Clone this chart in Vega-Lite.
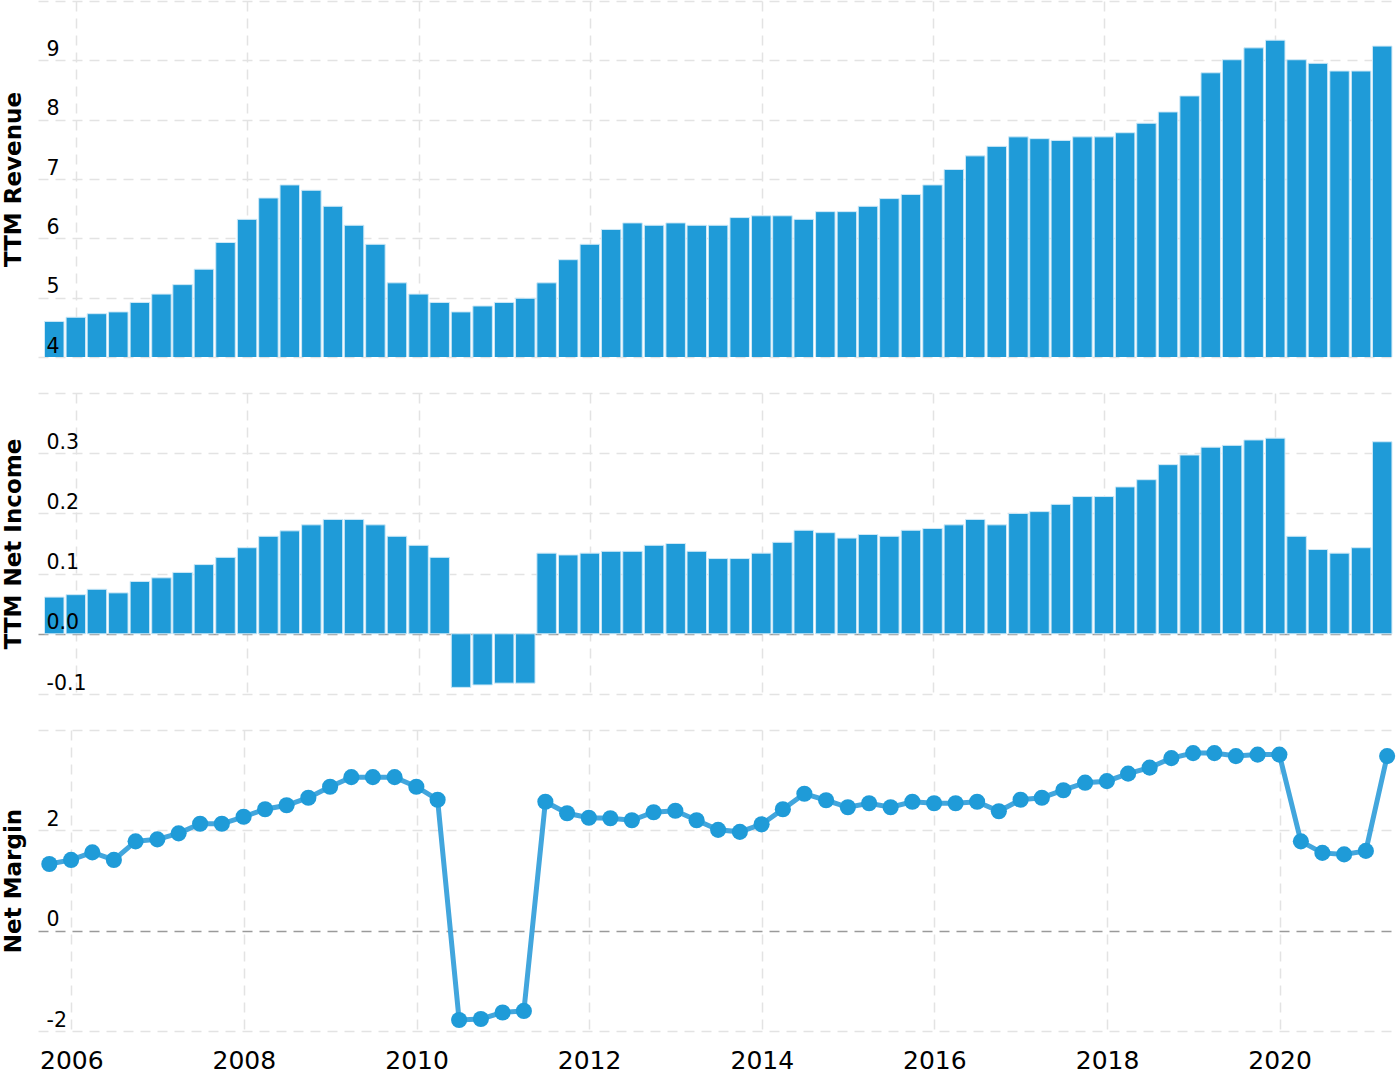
{
  "$schema": "https://vega.github.io/schema/vega-lite/v6.json",
  "background": "#ffffff",
  "padding": {"left": 2, "top": 1, "right": 0, "bottom": 0},
  "spacing": 36,
  "config": {
    "view": {"stroke": null},
    "font": "DejaVu Sans",
    "axis": {
      "ticks": false,
      "tickSize": 0,
      "domain": false,
      "labelColor": "#000000",
      "titleColor": "#000000",
      "labelFont": "DejaVu Sans",
      "titleFont": "DejaVu Sans"
    }
  },
  "data": {
    "values": [
      {"date": "2005-09-30", "revenue": 4.60, "netIncome": 0.061, "netMargin": 1.33},
      {"date": "2005-12-31", "revenue": 4.67, "netIncome": 0.065, "netMargin": 1.41},
      {"date": "2006-03-31", "revenue": 4.73, "netIncome": 0.074, "netMargin": 1.56},
      {"date": "2006-06-30", "revenue": 4.76, "netIncome": 0.068, "netMargin": 1.41},
      {"date": "2006-09-30", "revenue": 4.92, "netIncome": 0.087, "netMargin": 1.78},
      {"date": "2006-12-31", "revenue": 5.06, "netIncome": 0.093, "netMargin": 1.82},
      {"date": "2007-03-31", "revenue": 5.22, "netIncome": 0.102, "netMargin": 1.94},
      {"date": "2007-06-30", "revenue": 5.48, "netIncome": 0.115, "netMargin": 2.13},
      {"date": "2007-09-30", "revenue": 5.93, "netIncome": 0.127, "netMargin": 2.13},
      {"date": "2007-12-31", "revenue": 6.32, "netIncome": 0.143, "netMargin": 2.27},
      {"date": "2008-03-31", "revenue": 6.68, "netIncome": 0.162, "netMargin": 2.42},
      {"date": "2008-06-30", "revenue": 6.90, "netIncome": 0.171, "netMargin": 2.50},
      {"date": "2008-09-30", "revenue": 6.81, "netIncome": 0.181, "netMargin": 2.65},
      {"date": "2008-12-31", "revenue": 6.54, "netIncome": 0.190, "netMargin": 2.87},
      {"date": "2009-03-31", "revenue": 6.22, "netIncome": 0.190, "netMargin": 3.06},
      {"date": "2009-06-30", "revenue": 5.90, "netIncome": 0.181, "netMargin": 3.06},
      {"date": "2009-09-30", "revenue": 5.25, "netIncome": 0.162, "netMargin": 3.06},
      {"date": "2009-12-31", "revenue": 5.06, "netIncome": 0.147, "netMargin": 2.87},
      {"date": "2010-03-31", "revenue": 4.92, "netIncome": 0.127, "netMargin": 2.61},
      {"date": "2010-06-30", "revenue": 4.76, "netIncome": -0.089, "netMargin": -1.78},
      {"date": "2010-09-30", "revenue": 4.86, "netIncome": -0.085, "netMargin": -1.76},
      {"date": "2010-12-31", "revenue": 4.92, "netIncome": -0.082, "netMargin": -1.63},
      {"date": "2011-03-31", "revenue": 4.99, "netIncome": -0.082, "netMargin": -1.60},
      {"date": "2011-06-30", "revenue": 5.25, "netIncome": 0.134, "netMargin": 2.57},
      {"date": "2011-09-30", "revenue": 5.64, "netIncome": 0.131, "netMargin": 2.34},
      {"date": "2011-12-31", "revenue": 5.90, "netIncome": 0.134, "netMargin": 2.25},
      {"date": "2012-03-31", "revenue": 6.15, "netIncome": 0.137, "netMargin": 2.24},
      {"date": "2012-06-30", "revenue": 6.26, "netIncome": 0.137, "netMargin": 2.20},
      {"date": "2012-09-30", "revenue": 6.22, "netIncome": 0.147, "netMargin": 2.36},
      {"date": "2012-12-31", "revenue": 6.26, "netIncome": 0.150, "netMargin": 2.39},
      {"date": "2013-03-31", "revenue": 6.22, "netIncome": 0.137, "netMargin": 2.20},
      {"date": "2013-06-30", "revenue": 6.22, "netIncome": 0.125, "netMargin": 2.01},
      {"date": "2013-09-30", "revenue": 6.35, "netIncome": 0.125, "netMargin": 1.97},
      {"date": "2013-12-31", "revenue": 6.38, "netIncome": 0.134, "netMargin": 2.12},
      {"date": "2014-03-31", "revenue": 6.38, "netIncome": 0.152, "netMargin": 2.42},
      {"date": "2014-06-30", "revenue": 6.32, "netIncome": 0.172, "netMargin": 2.73},
      {"date": "2014-09-30", "revenue": 6.45, "netIncome": 0.168, "netMargin": 2.60},
      {"date": "2014-12-31", "revenue": 6.45, "netIncome": 0.159, "netMargin": 2.46},
      {"date": "2015-03-31", "revenue": 6.54, "netIncome": 0.165, "netMargin": 2.54},
      {"date": "2015-06-30", "revenue": 6.67, "netIncome": 0.162, "netMargin": 2.46},
      {"date": "2015-09-30", "revenue": 6.74, "netIncome": 0.172, "netMargin": 2.57},
      {"date": "2015-12-31", "revenue": 6.90, "netIncome": 0.175, "netMargin": 2.54},
      {"date": "2016-03-31", "revenue": 7.16, "netIncome": 0.181, "netMargin": 2.54},
      {"date": "2016-06-30", "revenue": 7.39, "netIncome": 0.190, "netMargin": 2.57},
      {"date": "2016-09-30", "revenue": 7.55, "netIncome": 0.181, "netMargin": 2.38},
      {"date": "2016-12-31", "revenue": 7.71, "netIncome": 0.200, "netMargin": 2.61},
      {"date": "2017-03-31", "revenue": 7.68, "netIncome": 0.203, "netMargin": 2.65},
      {"date": "2017-06-30", "revenue": 7.65, "netIncome": 0.215, "netMargin": 2.80},
      {"date": "2017-09-30", "revenue": 7.71, "netIncome": 0.228, "netMargin": 2.95},
      {"date": "2017-12-31", "revenue": 7.71, "netIncome": 0.228, "netMargin": 2.98},
      {"date": "2018-03-31", "revenue": 7.78, "netIncome": 0.244, "netMargin": 3.13},
      {"date": "2018-06-30", "revenue": 7.94, "netIncome": 0.256, "netMargin": 3.25},
      {"date": "2018-09-30", "revenue": 8.13, "netIncome": 0.281, "netMargin": 3.44},
      {"date": "2018-12-31", "revenue": 8.40, "netIncome": 0.297, "netMargin": 3.54},
      {"date": "2019-03-31", "revenue": 8.79, "netIncome": 0.310, "netMargin": 3.54},
      {"date": "2019-06-30", "revenue": 9.01, "netIncome": 0.313, "netMargin": 3.48},
      {"date": "2019-09-30", "revenue": 9.21, "netIncome": 0.322, "netMargin": 3.51},
      {"date": "2019-12-31", "revenue": 9.34, "netIncome": 0.325, "netMargin": 3.51},
      {"date": "2020-03-31", "revenue": 9.01, "netIncome": 0.162, "netMargin": 1.78},
      {"date": "2020-06-30", "revenue": 8.95, "netIncome": 0.140, "netMargin": 1.55},
      {"date": "2020-09-30", "revenue": 8.82, "netIncome": 0.134, "netMargin": 1.52},
      {"date": "2020-12-31", "revenue": 8.82, "netIncome": 0.143, "netMargin": 1.59},
      {"date": "2021-03-31", "revenue": 9.24, "netIncome": 0.319, "netMargin": 3.48}
    ]
  },
  "vconcat": [
    {
      "width": 1360,
      "height": 356,
      "encoding": {
        "x": {
          "field": "date", "type": "temporal",
          "scale": {"type": "utc", "domain": [{"year": 2005, "month": 8, "date": 13, "utc": true}, {"year": 2021, "month": 5, "date": 16, "utc": true}]},
          "axis": {
            "title": null, "labels": false,
            "values": [{"year": 2006, "utc": true}, {"year": 2008, "utc": true}, {"year": 2010, "utc": true}, {"year": 2012, "utc": true}, {"year": 2014, "utc": true}, {"year": 2016, "utc": true}, {"year": 2018, "utc": true}, {"year": 2020, "utc": true}],
            "grid": true, "gridColor": "#e3e3e3", "gridDash": [10, 7], "gridWidth": 1.5
          }
        }
      },
      "layer": [
        {
          "mark": {"type": "bar", "width": 19.5, "color": "#1f9bd8", "stroke": "#cfe9f7", "strokeWidth": 1, "clip": true},
          "encoding": {
            "y": {
              "field": "revenue", "type": "quantitative",
              "scale": {"domain": [4, 10], "zero": false, "nice": false},
              "axis": {
                "orient": "left", "title": null, "labels": false, "zindex": 0,
                "values": [4, 5, 6, 7, 8, 9, 10],
                "grid": true, "gridColor": "#e3e3e3", "gridDash": [10, 7], "gridWidth": 1.5
              }
            }
          }
        },
        {
          "mark": {"type": "bar", "width": 19.5, "opacity": 0, "clip": true},
          "encoding": {
            "y": {
              "field": "revenue", "type": "quantitative",
              "axis": {
                "orient": "left", "grid": false, "zindex": 1,
                "title": "TTM Revenue", "titleFontSize": 23, "titleFontWeight": "bold", "titleX": -18, "titleBaseline": "alphabetic",
                "values": [4, 5, 6, 7, 8, 9, 10],
                "labelExpr": "datum.value == 10 ? '' : datum.label",
                "labelAlign": "left", "labelPadding": -8, "labelBaseline": "alphabetic", "labelOffset": -5, "labelFontSize": 20.5
              }
            }
          }
        }
      ],
      "resolve": {"axis": {"y": "independent"}}
    },
    {
      "width": 1360,
      "height": 301,
      "encoding": {
        "x": {
          "field": "date", "type": "temporal",
          "scale": {"type": "utc", "domain": [{"year": 2005, "month": 8, "date": 13, "utc": true}, {"year": 2021, "month": 5, "date": 16, "utc": true}]},
          "axis": {
            "title": null, "labels": false,
            "values": [{"year": 2006, "utc": true}, {"year": 2008, "utc": true}, {"year": 2010, "utc": true}, {"year": 2012, "utc": true}, {"year": 2014, "utc": true}, {"year": 2016, "utc": true}, {"year": 2018, "utc": true}, {"year": 2020, "utc": true}],
            "grid": true, "gridColor": "#e3e3e3", "gridDash": [10, 7], "gridWidth": 1.5
          }
        }
      },
      "layer": [
        {
          "mark": {"type": "bar", "width": 19.5, "color": "#1f9bd8", "stroke": "#cfe9f7", "strokeWidth": 1, "clip": true},
          "encoding": {
            "y": {
              "field": "netIncome", "type": "quantitative",
              "scale": {"domain": [-0.1, 0.4], "nice": false},
              "axis": {
                "orient": "left", "title": null, "labels": false, "zindex": 0,
                "values": [-0.1, 0, 0.1, 0.2, 0.3, 0.4],
                "grid": true, "gridColor": {"condition": {"test": "datum.value == 0", "value": "#9a9a9a"}, "value": "#e3e3e3"}, "gridDash": [10, 7], "gridWidth": 1.5
              }
            }
          }
        },
        {
          "mark": {"type": "bar", "width": 19.5, "opacity": 0, "clip": true},
          "encoding": {
            "y": {
              "field": "netIncome", "type": "quantitative",
              "axis": {
                "orient": "left", "grid": false, "zindex": 1,
                "title": "TTM Net Income", "titleFontSize": 23, "titleFontWeight": "bold", "titleX": -18, "titleBaseline": "alphabetic",
                "values": [-0.1, 0, 0.1, 0.2, 0.3, 0.4], "format": ".1f",
                "labelExpr": "datum.value > 0.35 ? '' : replace(datum.label, '−', '-')",
                "labelAlign": "left", "labelPadding": -8, "labelBaseline": "alphabetic", "labelOffset": -5, "labelFontSize": 20.5
              }
            }
          }
        }
      ],
      "resolve": {"axis": {"y": "independent"}}
    },
    {
      "width": 1360,
      "height": 301,
      "encoding": {
        "x": {
          "field": "date", "type": "temporal",
          "scale": {"type": "utc", "domain": [{"year": 2005, "month": 8, "date": 13, "utc": true}, {"year": 2021, "month": 5, "date": 16, "utc": true}]},
          "axis": {
            "title": null, "format": "%Y", "formatType": "utc",
            "values": [{"year": 2006, "utc": true}, {"year": 2008, "utc": true}, {"year": 2010, "utc": true}, {"year": 2012, "utc": true}, {"year": 2014, "utc": true}, {"year": 2016, "utc": true}, {"year": 2018, "utc": true}, {"year": 2020, "utc": true}],
            "labelFontSize": 25, "labelPadding": 17, "labelFlush": false, "labelOverlap": false,
            "grid": true, "gridColor": "#e3e3e3", "gridDash": [10, 7], "gridWidth": 1.5
          }
        },
        "y": {
          "field": "netMargin", "type": "quantitative",
          "scale": {"domain": [-2, 4], "nice": false},
          "axis": {
            "title": "Net Margin", "titleFontSize": 23, "titleFontWeight": "bold", "titleX": -18, "titleBaseline": "alphabetic",
            "values": [-2, 0, 2, 4],
            "labelExpr": "datum.value > 3 ? '' : replace(datum.label, '−', '-')",
            "labelAlign": "left", "labelPadding": -8, "labelBaseline": "alphabetic", "labelOffset": -5, "labelFontSize": 20.5,
            "grid": true, "gridColor": {"condition": {"test": "datum.value == 0", "value": "#9a9a9a"}, "value": "#e3e3e3"}, "gridDash": [10, 7], "gridWidth": 1.5
          }
        }
      },
      "layer": [
        {"mark": {"type": "line", "color": "#42a6dd", "strokeWidth": 5}},
        {"mark": {"type": "point", "filled": true, "shape": "circle", "size": 260, "color": "#1f9bd8", "opacity": 1}}
      ]
    }
  ]
}
